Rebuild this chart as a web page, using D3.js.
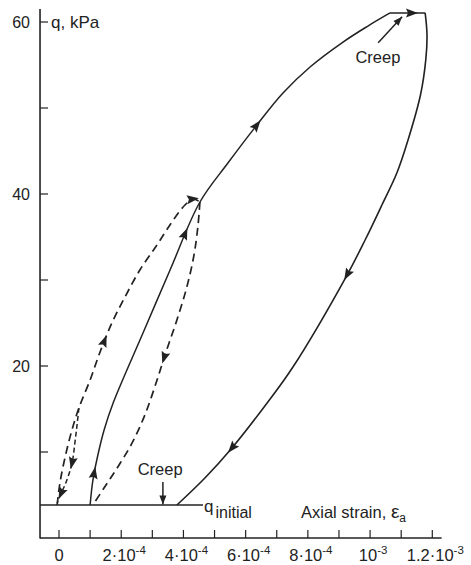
<!DOCTYPE html>
<html><head><meta charset="utf-8">
<script src="https://cdn.jsdelivr.net/npm/d3@7"></script>
<style>
body{margin:0;background:#fff}
text{font-family:"Liberation Sans",Arial,Helvetica,sans-serif;fill:#222}
</style>
</head><body>
<svg id="c" width="471" height="565"></svg>
<script>
// strain in units of 1e-4, deviator stress q in kPa
const xTickValues = [0,1,2,3,4,5,6,7,8,9,10,11,12];
const xLabelTicks = [0,2,4,6,8,10,12];
const xLabelBase  = ["0","2·10","4·10","6·10","8·10","10","1.2·10"];
const xLabelExp   = ["","-4","-4","-4","-4","-3","-3"];
const yTickValues = [10,20,30,40,50,60];
const yLabelTicks = [20,40,60];
const qInitial = 3.84;

// solid loading path (reload) up to peak
const loadSolid = [[1.00,3.84],[1.09,6.74],[1.25,9.65],[1.45,12.56],[1.74,15.70],[2.70,23.84],[3.57,31.16],[4.53,39.07],[5.43,43.60],[6.36,48.02],[7.20,51.74],[8.07,54.77],[9.13,57.67],[9.93,59.53],[10.64,61.05]];
// creep at peak
const creepTop = [[10.64,61.05],[11.77,61.05]];
// unloading
const unload = [[11.77,61.05],[11.83,58.5],[11.79,55.6],[11.62,51.51],[11.22,46.28],[10.86,42.44],[10.38,38.72],[9.84,34.65],[9.26,30.58],[7.52,19.88],[6.69,15.70],[5.56,10.47],[4.69,6.98],[3.79,3.84]];
// dashed first cycle
const dashUp = [[-0.06,3.84],[0.03,6.40],[0.19,9.30],[0.39,12.21],[0.64,15.12],[1.00,18.37],[1.32,21.63],[1.70,25.00],[2.12,28.02],[2.60,31.16],[3.15,34.07],[3.63,36.74],[4.05,38.72],[4.31,39.42],[4.53,39.07]];
const dashDown = [[4.53,39.07],[4.47,36.40],[4.34,32.91],[4.11,29.19],[3.79,25.35],[3.44,21.63],[3.12,18.02],[2.76,14.30],[2.35,11.05],[1.93,8.49],[1.51,6.16],[1.09,3.84]];
// small initial loop (unloading branch)
const smallDown = [[0.64,15.12],[0.58,13.14],[0.51,11.05],[0.42,8.72],[0.23,6.51],[0.03,4.88],[-0.06,4.07]];

// arrow heads (approximate positions along the curves)
const arrowPath = ["loadSolid","loadSolid","loadSolid","creepTop","unload","unload","dashUp","dashUp","dashDown","smallDown","smallDown"];
const arrowAt = [[1.16,7.56],[3.99,35.47],[6.36,48.02],[11.35,61.05],[9.26,30.58],[5.56,10.47],[1.41,23.02],[4.31,39.42],[3.31,21.05],[0.42,8.72],[-0.04,5.35]];

const svg = d3.select("#c");
const x = d3.scaleLinear().domain([0,12]).range([59,432.3]);
const y = d3.scaleLinear().domain([0,60]).range([538,22]);
const ink = "#222";

// axes lines
svg.append("line").attr("x1",x(-0.61)).attr("x2",x(-0.61)).attr("y1",9).attr("y2",y(0)+0.5)
  .attr("stroke",ink).attr("stroke-width",1.6);
svg.append("line").attr("x1",x(-0.61)).attr("x2",x(12.3)).attr("y1",y(0)).attr("y2",y(0))
  .attr("stroke",ink).attr("stroke-width",1.6);

// x ticks
svg.append("g").selectAll("line").data(xTickValues).join("line")
  .attr("x1",d=>x(d)).attr("x2",d=>x(d)).attr("y1",y(0)).attr("y2",y(0)-8)
  .attr("stroke",ink).attr("stroke-width",1.2);
const xl = svg.append("g").selectAll("text").data(xLabelTicks).join("text")
  .attr("x",(d,i)=>x(d)+(xLabelExp[i]?3:0)).attr("y",561)
  .attr("text-anchor","middle").attr("font-size",16.5);
xl.append("tspan").text((d,i)=>xLabelBase[i]);
xl.append("tspan").attr("dy",-7.5).attr("font-size",11.5).text((d,i)=>xLabelExp[i]);

// y ticks
svg.append("g").selectAll("line").data(yTickValues).join("line")
  .attr("x1",x(-0.61)).attr("x2",x(-0.61)+8).attr("y1",d=>y(d)).attr("y2",d=>y(d))
  .attr("stroke",ink).attr("stroke-width",1.2);
svg.append("g").selectAll("text").data(yLabelTicks).join("text")
  .attr("x",30).attr("y",d=>y(d)+5.7).attr("text-anchor","end").attr("font-size",16).text(d=>d);

svg.append("text").attr("x",51).attr("y",27.5).attr("font-size",17).text("q, kPa");

// q initial line
svg.append("line").attr("x1",x(-0.61)).attr("x2",x(4.63)).attr("y1",y(qInitial)).attr("y2",y(qInitial))
  .attr("stroke",ink).attr("stroke-width",1.6);
const qi = svg.append("text").attr("x",x(4.66)).attr("y",y(qInitial)+7).attr("font-size",17);
qi.append("tspan").text("q");
qi.append("tspan").attr("dy",6).attr("dx",2).attr("font-size",16).text("initial");

const ax = svg.append("text").attr("x",301).attr("y",518).attr("font-size",16.5);
ax.append("tspan").text("Axial strain, ");
ax.append("tspan").attr("font-size",19).text("ε");
ax.append("tspan").attr("dy",4).attr("font-size",12).text("a");

// curves
const line = d3.line().x(d=>x(d[0])).y(d=>y(d[1])).curve(d3.curveCatmullRom.alpha(0.5));
const paths = {};
function drawPath(name, data, dashed, w){
  paths[name] = svg.append("path").attr("d",line(data)).attr("fill","none")
    .attr("stroke",ink).attr("stroke-width",w)
    .attr("stroke-dasharray",dashed?dashed:null).attr("stroke-linejoin","round");
}
drawPath("dashUp",dashUp,"8,5",1.7);
drawPath("dashDown",dashDown,"8,5",1.7);
drawPath("smallDown",smallDown,"5,3",1.5);
drawPath("loadSolid",loadSolid,null,1.5);
drawPath("creepTop",creepTop,null,1.6);
drawPath("unload",unload,null,1.6);

// arrowheads
arrowAt.forEach((a,i)=>{
  const node = paths[arrowPath[i]].node();
  const L = node.getTotalLength();
  const tx = x(a[0]), ty = y(a[1]);
  let best = 0, bd = Infinity;
  for(let l=0;l<=L;l+=0.5){
    const p = node.getPointAtLength(l);
    const dd = (p.x-tx)**2+(p.y-ty)**2;
    if(dd<bd){bd=dd;best=l;}
  }
  const p = node.getPointAtLength(best);
  const p1 = node.getPointAtLength(Math.max(0,best-3));
  const p2 = node.getPointAtLength(Math.min(L,best+3));
  const ang = Math.atan2(p2.y-p1.y,p2.x-p1.x)*180/Math.PI;
  svg.append("path").attr("d","M6,0L-6,-4.5L-4,0L-6,4.5Z").attr("fill",ink)
    .attr("transform",`translate(${p.x},${p.y}) rotate(${ang})`);
});

// creep annotations
function creepArrow(x1,y1,x2,y2){
  svg.append("line").attr("x1",x(x1)).attr("y1",y(y1)).attr("x2",x(x2)).attr("y2",y(y2))
    .attr("stroke",ink).attr("stroke-width",1.5);
  const ang = Math.atan2(y(y2)-y(y1),x(x2)-x(x1))*180/Math.PI;
  svg.append("path").attr("d","M0,0L-9,-3.5L-9,3.5Z").attr("fill",ink)
    .attr("transform",`translate(${x(x2)},${y(y2)}) rotate(${ang})`);
}
creepArrow(3.34,6.5,3.34,3.9);
creepArrow(10.26,57.6,11.03,60.6);
svg.append("text").attr("x",x(3.25)).attr("y",y(7.3)).attr("text-anchor","middle").attr("font-size",16.5).text("Creep");
svg.append("text").attr("x",x(10.25)).attr("y",y(55.2)).attr("text-anchor","middle").attr("font-size",16.5).text("Creep");
</script>
</body></html>
